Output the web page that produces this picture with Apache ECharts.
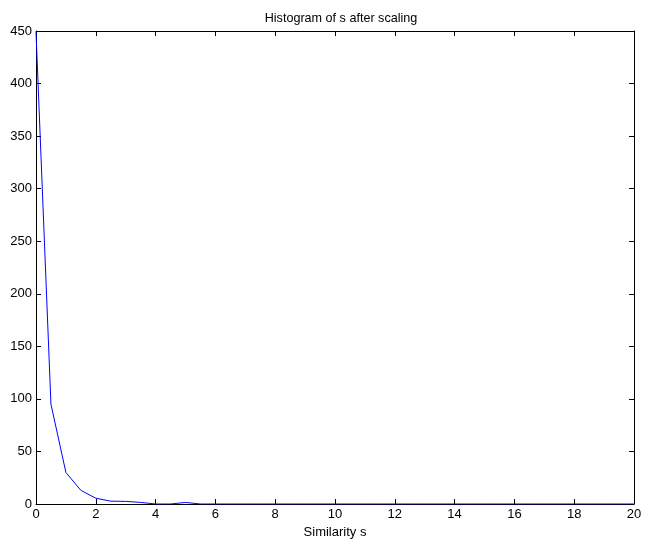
<!DOCTYPE html>
<html>
<head>
<meta charset="utf-8">
<script src="https://cdn.jsdelivr.net/npm/echarts@6/dist/echarts.min.js"></script>
<style>html,body{margin:0;padding:0;background:#fff;}#c{width:645px;height:544px;}</style>
</head>
<body>
<div id="c"></div>
<script>
var xValues = [0, 0.5, 1, 1.5, 2, 2.5, 3, 3.5, 4, 4.5, 5, 5.5, 6, 6.5, 7, 7.5, 8, 8.5, 9, 9.5, 10,
  10.5, 11, 11.5, 12, 12.5, 13, 13.5, 14, 14.5, 15, 15.5, 16, 16.5, 17, 17.5, 18, 18.5, 19, 19.5, 20];
var counts = [449, 95, 30, 13, 5.5, 2.7, 2.5, 1.5, 0, 0, 1.5, 0, 0, 0, 0, 0, 0, 0, 0, 0, 0,
  0, 0, 0, 0, 0, 0, 0, 0, 0, 0, 0, 0, 0, 0, 0, 0, 0, 0, 0, 0];
var titleText = 'Histogram of s after scaling';
var xName = 'Similarity s';

var data = xValues.map(function (x, i) { return [x, counts[i]]; });
var font = 'Liberation Sans, Arial, sans-serif';
var chart = echarts.init(document.getElementById('c'));
var baseX = {
  type: 'value', min: 0, max: 20, interval: 2,
  axisLine: { show: true, onZero: false, lineStyle: { color: '#000', width: 1 } },
  axisTick: { show: true, inside: true, length: 5, lineStyle: { color: '#000' } },
  splitLine: { show: false }
};
var baseY = {
  type: 'value', min: 0, max: 450, interval: 50,
  axisLine: { show: true, onZero: false, lineStyle: { color: '#000', width: 1 } },
  axisTick: { show: true, inside: true, length: 5, lineStyle: { color: '#000' } },
  splitLine: { show: false }
};
chart.setOption({
  animation: false,
  backgroundColor: '#fff',
  title: {
    text: titleText, left: 336, top: 7, textAlign: 'center',
    textStyle: { fontFamily: font, fontSize: 12.6, fontWeight: 'normal', color: '#000' }
  },
  grid: { left: 36, right: 11, top: 31, bottom: 40, containLabel: false },
  xAxis: [
    Object.assign({}, baseX, {
      position: 'bottom',
      name: xName, nameLocation: 'middle', nameGap: 20,
      nameTextStyle: { fontFamily: font, fontSize: 13, color: '#000' },
      axisLabel: { show: true, margin: 4, fontFamily: font, fontSize: 13, color: '#000' }
    }),
    Object.assign({}, baseX, { position: 'top', axisLabel: { show: false } })
  ],
  yAxis: [
    Object.assign({}, baseY, {
      position: 'left',
      axisLabel: { show: true, margin: 4, fontFamily: font, fontSize: 13, color: '#000' }
    }),
    Object.assign({}, baseY, { position: 'right', axisLabel: { show: false } })
  ],
  series: [{
    type: 'line', data: data, xAxisIndex: 0, yAxisIndex: 0,
    showSymbol: false, symbol: 'none',
    lineStyle: { color: '#0000ff', width: 1 },
    clip: true
  }]
});
</script>
</body>
</html>
